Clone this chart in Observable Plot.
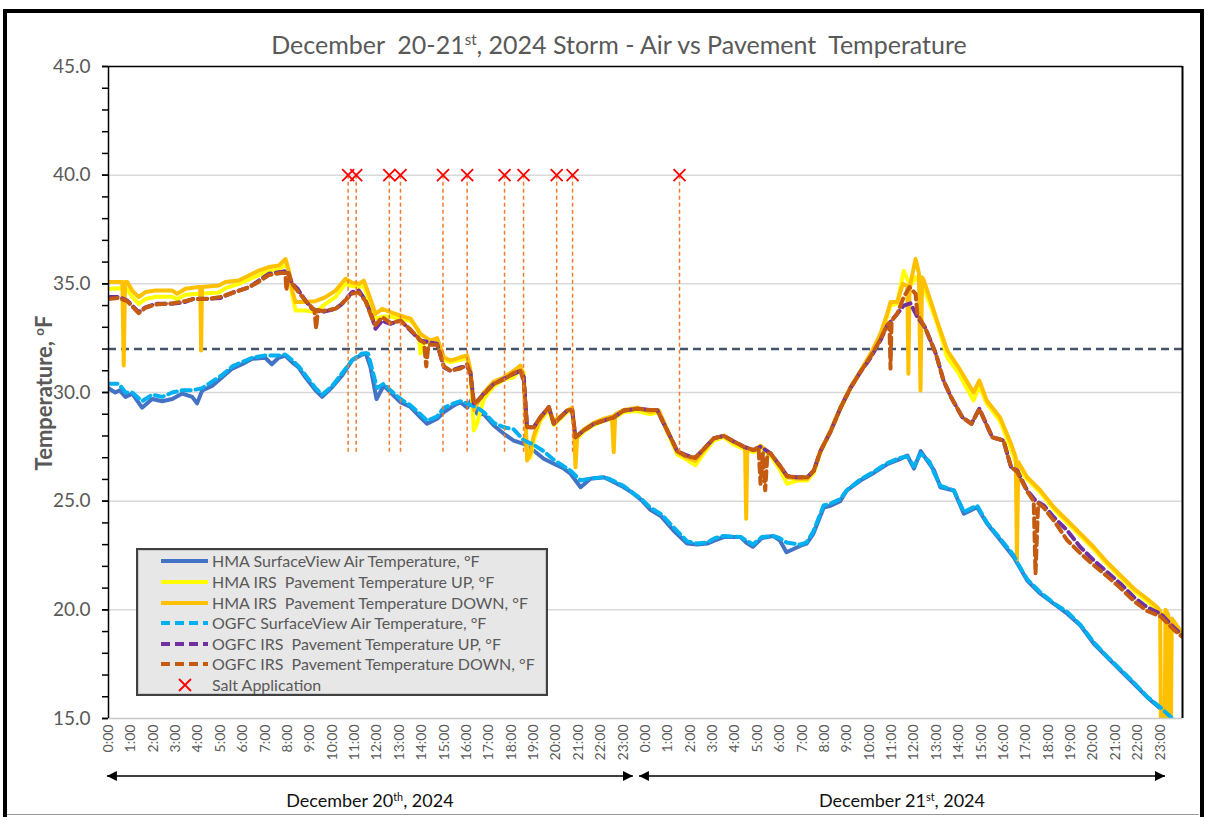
<!DOCTYPE html>
<html><head><meta charset="utf-8">
<script src="https://cdn.jsdelivr.net/npm/d3@7"></script>
<script src="https://cdn.jsdelivr.net/npm/@observablehq/plot@0.6"></script>
<style>
body{margin:0;background:#fff;font-family:Lato,"Open Sans",sans-serif;}
#wrap{position:relative;width:1209px;height:817px;overflow:hidden;background:#fff;}
#wrap svg.plot{position:absolute;left:0;top:0;}
.abs{position:absolute;white-space:pre;}
#title{left:619px;top:29px;transform:translateX(-50%);font-size:25px;color:#595959;}
#title sup,.day sup{font-size:0.6em;vertical-align:0.6em;line-height:0;}
#ylab{left:43px;top:393px;transform:translate(-50%,-50%) rotate(-90deg);font-size:22px;font-weight:bold;color:#595959;}
#ylab sup{font-size:0.6em;vertical-align:0.6em;line-height:0;}
.day{font-size:18px;color:#111;transform:translate(-50%,-50%);}
#legend{left:136px;top:548px;width:412px;height:148px;box-sizing:border-box;background:#e7e7e7;border:2px solid #404040;box-shadow:inset 0 0 0 1px #c8c8c8;}
.lrow{position:absolute;left:0;height:20px;display:flex;align-items:center;}
.lrow svg{position:absolute;left:22px;top:0;}
.lrow span{position:absolute;left:74px;top:50%;transform:translateY(-52%);font-size:16px;color:#595959;white-space:pre;}
#frame{left:3px;top:9px;width:1201px;height:840px;box-sizing:border-box;border:4px solid #000;}
#bottomline{left:7px;top:814px;width:1192px;height:1px;background:#9a9a9a;}
</style></head><body><div id="wrap"></div>
<script>
// ---------------- DATA (hours since Dec 20 0:00, temperature °F) ----------------
const hmaAir = [[0,30.2],[0.3,30.0],[0.5,30.1],[0.76,29.8],[1.06,29.95],[1.5,29.3],[1.95,29.7],[2.4,29.6],[2.85,29.7],[3.3,29.95],[3.74,29.8],[3.96,29.5],[4.19,30.1],[4.63,30.3],[5.08,30.7],[5.53,31.1],[5.97,31.3],[6.42,31.55],[7.0,31.6],[7.3,31.3],[7.6,31.6],[7.9,31.7],[8.2,31.4],[8.5,31.15],[8.8,30.7],[9.25,30.1],[9.55,29.8],[10.0,30.25],[10.45,30.8],[10.9,31.5],[11.34,31.75],[11.5,31.8],[11.71,31.16],[11.98,29.7],[12.3,30.32],[12.6,30.01],[13.05,29.55],[13.5,29.33],[13.94,28.86],[14.24,28.56],[14.69,28.79],[14.99,29.1],[15.43,29.4],[15.73,29.55],[16.03,29.3],[16.18,29.6],[16.48,29.02],[16.77,29.0],[17.22,28.48],[17.67,28.1],[18.11,27.79],[18.56,27.64],[19.0,27.33],[19.45,26.95],[19.9,26.72],[20.35,26.5],[20.65,26.26],[21.1,25.64],[21.54,26.03],[22.14,26.1],[22.44,25.95],[23.03,25.64],[23.4,25.4],[23.82,25.05],[24.22,24.6],[24.7,24.3],[25.25,23.65],[25.86,23.05],[26.3,23.0],[26.76,23.05],[27.1,23.2],[27.5,23.35],[28.25,23.35],[28.5,23.1],[28.8,22.9],[29.2,23.3],[29.7,23.4],[30.0,23.2],[30.3,22.65],[30.93,22.95],[31.2,23.05],[31.5,23.5],[31.96,24.7],[32.3,24.8],[32.7,25.0],[33.0,25.5],[33.6,25.95],[34.2,26.3],[34.8,26.7],[35.4,26.95],[35.7,27.1],[36.0,26.5],[36.3,27.3],[36.7,26.7],[36.9,26.41],[37.18,25.64],[37.78,25.49],[38.23,24.42],[38.82,24.72],[39.27,23.96],[39.87,23.19],[40.46,22.42],[41.06,21.35],[41.65,20.74],[42.25,20.28],[42.85,19.82],[43.44,19.28],[44.04,18.44],[44.63,17.82],[45.23,17.21],[45.83,16.6],[46.42,15.98],[47.02,15.45],[47.6,14.9],[48.0,14.6]];

const hmaUp = [[0,34.77],[0.5,34.8],[0.84,34.75],[1.06,34.4],[1.35,34.08],[1.65,34.3],[2.1,34.4],[2.85,34.4],[3.07,34.3],[3.44,34.5],[4.04,34.54],[4.93,34.6],[5.23,34.8],[5.82,35.0],[6.27,35.2],[6.72,35.4],[7.16,35.6],[7.61,35.65],[7.91,35.9],[8.06,35.6],[8.21,34.5],[8.36,33.77],[8.8,33.77],[9.25,33.7],[9.7,34.08],[10.15,34.4],[10.59,35.0],[10.89,34.9],[11.19,34.85],[11.41,34.9],[11.63,34.3],[11.93,33.4],[12.3,33.5],[12.6,33.5],[13.05,33.4],[13.5,33.3],[13.85,32.9],[13.94,31.8],[14.1,32.3],[14.39,32.3],[14.69,32.3],[14.99,31.5],[15.28,31.4],[15.73,31.5],[16.03,31.6],[16.18,30.9],[16.33,28.25],[16.48,28.6],[16.77,29.7],[17.22,30.3],[17.67,30.6],[18.11,30.7],[18.41,31.1],[18.56,30.9],[18.71,27.0],[18.86,27.0],[19.0,27.79],[19.3,28.7],[19.68,29.2],[19.9,28.5],[20.2,28.8],[20.5,29.1],[20.72,29.2],[20.87,27.8],[21.24,28.2],[21.69,28.5],[22.14,28.7],[22.58,28.8],[23.03,29.1],[23.63,29.15],[24.22,29.0],[24.6,29.1],[24.97,28.2],[25.42,27.15],[25.86,26.9],[26.23,26.65],[26.6,27.2],[27.06,27.8],[27.5,27.95],[27.95,27.6],[28.4,27.4],[28.84,27.25],[29.14,27.45],[29.59,27.1],[30.03,26.4],[30.33,25.8],[30.78,25.95],[31.23,25.95],[31.52,26.3],[31.82,27.25],[32.27,28.2],[32.72,29.25],[33.16,30.2],[33.61,30.95],[34.06,31.7],[34.5,32.6],[34.8,33.5],[34.95,34.0],[35.25,34.1],[35.54,35.6],[35.84,34.9],[36.07,35.3],[36.29,35.0],[36.44,34.8],[36.74,34.0],[37.03,33.2],[37.49,31.6],[37.99,30.9],[38.66,29.63],[38.92,30.3],[39.25,29.5],[39.84,28.7],[40.34,27.4],[40.61,26.6],[41.06,26.0],[41.65,25.4],[42.25,24.62],[42.85,24.0],[43.44,23.4],[44.04,22.78],[44.63,22.1],[45.23,21.48],[45.83,20.87],[46.42,20.4],[46.87,20.0],[47.02,19.9],[47.6,19.4],[48.0,18.85]];

const hmaDown = [[0,35.08],[0.46,35.08],[0.62,35.08],[0.68,31.24],[0.74,35.08],[0.84,35.08],[1.06,34.69],[1.35,34.39],[1.65,34.62],[2.1,34.69],[2.85,34.69],[3.07,34.54],[3.44,34.77],[4.04,34.85],[4.1,34.85],[4.14,31.93],[4.18,34.85],[4.93,34.92],[5.23,35.08],[5.82,35.15],[6.27,35.38],[6.72,35.61],[7.16,35.77],[7.61,35.84],[7.91,36.15],[8.06,35.6],[8.21,34.69],[8.36,34.16],[8.8,34.16],[9.25,34.2],[9.7,34.39],[10.15,34.69],[10.59,35.23],[10.89,35.05],[11.19,35.0],[11.41,35.15],[11.63,34.54],[11.93,33.62],[12.23,33.85],[12.6,33.7],[13.05,33.54],[13.5,33.4],[13.94,32.7],[14.39,32.39],[14.69,32.5],[14.99,31.62],[15.28,31.47],[15.73,31.62],[16.03,31.7],[16.18,31.0],[16.33,29.2],[16.48,29.48],[16.77,30.0],[17.22,30.5],[17.67,30.7],[18.11,31.0],[18.41,31.24],[18.56,30.7],[18.71,26.87],[18.86,27.2],[19.0,28.0],[19.3,28.8],[19.68,29.25],[19.9,28.7],[20.2,28.9],[20.5,29.17],[20.72,29.3],[20.8,28.6],[20.87,26.56],[20.95,28.0],[21.24,28.3],[21.69,28.6],[22.14,28.8],[22.5,28.9],[22.58,27.25],[22.65,29.0],[23.03,29.2],[23.63,29.3],[24.22,29.1],[24.6,29.17],[24.97,28.3],[25.42,27.25],[25.86,27.0],[26.23,26.85],[26.6,27.33],[27.06,27.87],[27.5,28.02],[27.95,27.71],[28.45,27.48],[28.5,24.19],[28.55,27.4],[28.84,27.33],[29.14,27.56],[29.59,27.18],[30.03,26.56],[30.33,26.1],[30.78,26.03],[31.23,26.03],[31.52,26.41],[31.82,27.33],[32.27,28.25],[32.72,29.33],[33.16,30.25],[33.61,31.0],[34.06,31.78],[34.5,32.7],[34.8,33.62],[34.95,34.16],[35.25,34.16],[35.5,35.0],[35.7,34.9],[35.75,30.86],[35.8,34.8],[36.07,36.15],[36.22,35.5],[36.29,30.09],[36.36,35.3],[36.44,35.15],[36.74,34.23],[37.03,33.3],[37.49,31.93],[37.99,31.16],[38.66,30.0],[38.92,30.55],[39.25,29.63],[39.84,28.86],[40.34,27.64],[40.55,27.0],[40.6,22.3],[40.66,26.8],[41.06,26.1],[41.65,25.49],[42.25,24.72],[42.85,24.11],[43.44,23.5],[44.04,22.88],[44.63,22.19],[45.23,21.58],[45.83,20.97],[46.42,20.51],[46.87,20.12],[47.0,19.95],[47.04,14.0],[47.2,14.0],[47.24,20.0],[47.36,19.8],[47.4,14.0],[47.48,14.0],[47.52,19.6],[48.0,18.9]];

const ogfcAir = [[0,30.4],[0.46,30.4],[0.76,30.0],[1.06,30.0],[1.5,29.6],[1.95,29.9],[2.4,29.8],[2.85,30.0],[3.3,30.1],[3.74,30.1],[4.19,30.2],[4.63,30.5],[5.08,30.8],[5.53,31.2],[5.97,31.4],[6.42,31.6],[7.0,31.7],[7.6,31.7],[7.9,31.75],[8.2,31.5],[8.5,31.2],[8.8,30.8],[9.25,30.2],[9.55,29.9],[10.0,30.3],[10.45,30.9],[10.9,31.5],[11.34,31.8],[11.6,31.8],[11.8,31.0],[12.0,30.2],[12.3,30.4],[12.6,30.1],[13.05,29.7],[13.5,29.4],[13.94,29.0],[14.24,28.7],[14.69,28.9],[14.99,29.3],[15.43,29.5],[15.73,29.6],[16.03,29.5],[16.48,29.3],[16.77,29.1],[17.22,28.6],[17.67,28.4],[18.11,28.3],[18.56,27.8],[19.0,27.6],[19.45,27.3],[19.9,26.9],[20.35,26.6],[20.65,26.4],[21.1,25.95],[21.54,26.05],[22.14,26.1],[22.44,26.0],[23.03,25.7],[23.4,25.4],[23.82,25.1],[24.22,24.7],[24.7,24.4],[25.25,23.8],[25.86,23.15],[26.3,23.05],[26.76,23.1],[27.1,23.3],[27.5,23.4],[28.25,23.35],[28.5,23.2],[28.8,23.0],[29.2,23.35],[29.7,23.4],[30.0,23.3],[30.3,23.1],[30.93,23.0],[31.2,23.1],[31.5,23.6],[31.96,24.8],[32.3,24.9],[32.7,25.1],[33.0,25.5],[33.6,26.0],[34.2,26.35],[34.8,26.75],[35.4,27.0],[35.7,27.05],[36.0,26.6],[36.3,27.2],[36.7,26.8],[36.9,26.3],[37.18,25.7],[37.78,25.5],[38.23,24.5],[38.82,24.8],[39.27,24.0],[39.87,23.25],[40.46,22.5],[40.6,22.2],[41.06,21.4],[41.65,20.8],[42.25,20.3],[42.85,19.9],[43.44,19.3],[44.04,18.5],[44.63,17.85],[45.23,17.25],[45.83,16.65],[46.42,16.0],[47.02,15.5],[47.6,14.95],[48.0,14.6]];

const ogfcUp = [[0,34.39],[0.46,34.4],[0.84,34.23],[1.35,33.7],[1.65,33.92],[2.1,34.08],[2.85,34.08],[3.4,34.16],[3.8,34.31],[4.5,34.31],[5.0,34.35],[5.6,34.62],[6.3,34.85],[6.72,35.15],[7.16,35.46],[7.7,35.54],[7.99,35.6],[8.21,35.0],[8.43,34.8],[8.8,34.23],[9.1,33.85],[9.55,33.7],[10.15,33.85],[10.44,34.08],[10.89,34.62],[11.19,34.69],[11.49,34.23],[11.78,33.47],[11.93,32.93],[12.23,33.3],[12.6,33.16],[13.05,33.31],[13.5,32.85],[13.94,32.39],[14.39,32.3],[14.69,32.24],[14.99,31.16],[15.28,31.0],[15.73,31.16],[16.03,31.2],[16.18,30.9],[16.33,29.5],[16.48,29.6],[16.77,29.94],[17.22,30.4],[17.67,30.63],[18.11,30.86],[18.41,31.0],[18.56,30.7],[18.71,28.4],[19.0,28.4],[19.3,28.86],[19.68,29.33],[19.9,28.56],[20.2,28.86],[20.5,29.17],[20.72,29.2],[20.87,27.94],[21.24,28.25],[21.69,28.56],[22.14,28.71],[22.58,28.86],[23.03,29.17],[23.63,29.25],[24.22,29.2],[24.52,29.2],[24.82,28.56],[25.12,27.94],[25.42,27.3],[25.86,27.1],[26.23,27.0],[26.6,27.4],[27.06,27.9],[27.5,28.0],[27.95,27.75],[28.4,27.5],[28.84,27.35],[29.14,27.5],[29.59,27.2],[30.03,26.6],[30.33,26.15],[30.78,26.1],[31.23,26.1],[31.52,26.4],[31.82,27.3],[32.27,28.2],[32.72,29.3],[33.16,30.2],[33.61,30.95],[34.06,31.6],[34.5,32.4],[34.8,33.08],[35.25,33.62],[35.54,34.0],[35.84,34.1],[36.15,33.47],[36.49,33.0],[36.98,31.78],[37.32,30.55],[37.66,29.78],[38.16,28.86],[38.57,28.56],[38.92,29.25],[39.5,27.94],[40.0,27.79],[40.34,26.56],[40.61,26.41],[41.06,25.49],[41.43,25.03],[41.8,24.8],[42.25,24.26],[42.85,23.65],[43.44,22.88],[44.04,22.27],[44.63,21.74],[45.23,21.2],[45.83,20.58],[46.42,20.12],[47.02,19.82],[47.6,19.2],[48.0,18.82]];

const ogfcDown = [[0,34.3],[0.46,34.35],[0.84,34.2],[1.35,33.65],[1.65,33.9],[2.1,34.05],[2.85,34.1],[3.4,34.2],[3.8,34.3],[4.5,34.3],[5.0,34.4],[5.6,34.6],[6.3,34.85],[6.72,35.1],[7.16,35.4],[7.7,35.5],[7.9,35.5],[7.95,34.7],[8.05,35.5],[8.21,35.0],[8.43,34.7],[8.8,34.23],[9.1,33.9],[9.2,33.8],[9.28,32.93],[9.36,33.8],[9.55,33.75],[10.15,33.85],[10.44,34.1],[10.89,34.55],[11.19,34.6],[11.49,34.2],[11.78,33.4],[11.93,33.1],[12.23,33.47],[12.6,33.2],[13.05,33.3],[13.5,32.9],[13.94,32.4],[14.1,32.3],[14.2,31.2],[14.3,32.2],[14.69,32.2],[14.99,31.2],[15.28,31.0],[15.73,31.1],[16.03,31.3],[16.18,30.8],[16.33,29.48],[16.48,29.6],[16.77,29.9],[17.22,30.4],[17.67,30.6],[18.11,30.9],[18.41,31.0],[18.56,30.5],[18.71,28.4],[19.0,28.4],[19.3,28.86],[19.68,29.33],[19.9,28.56],[20.2,28.86],[20.5,29.17],[20.72,29.2],[20.87,27.94],[21.24,28.25],[21.69,28.56],[22.14,28.71],[22.58,28.86],[23.03,29.17],[23.63,29.25],[24.22,29.2],[24.52,29.2],[24.82,28.56],[25.12,27.94],[25.42,27.3],[25.86,27.05],[26.23,27.0],[26.6,27.4],[27.06,27.9],[27.5,28.0],[27.95,27.75],[28.4,27.5],[28.84,27.35],[29.05,27.5],[29.14,25.8],[29.25,27.2],[29.35,25.5],[29.45,27.2],[29.59,27.2],[30.03,26.6],[30.33,26.15],[30.78,26.1],[31.23,26.1],[31.52,26.4],[31.82,27.3],[32.27,28.2],[32.72,29.3],[33.16,30.2],[33.61,30.95],[34.06,31.65],[34.5,32.45],[34.8,33.1],[34.9,33.2],[34.95,31.1],[35.0,33.3],[35.25,33.62],[35.54,34.39],[35.8,34.85],[36.07,34.54],[36.15,33.6],[36.49,33.0],[36.98,31.78],[37.32,30.55],[37.66,29.78],[38.16,28.86],[38.57,28.56],[38.92,29.25],[39.5,27.94],[40.0,27.79],[40.34,26.56],[40.61,26.35],[41.06,25.45],[41.35,25.0],[41.43,21.66],[41.55,24.9],[41.8,24.7],[42.25,24.1],[42.85,23.2],[43.44,22.6],[44.04,22.05],[44.63,21.55],[45.23,21.0],[45.83,20.4],[46.42,19.95],[47.02,19.7],[47.6,19.1],[48.0,18.75]];

const saltTimes = [10.71, 11.07, 12.55, 13.05, 14.95, 16.03, 17.7, 18.55, 20.03, 20.74, 25.52];
const saltLevel = 40;
const saltLineBottom = 27.25;
const freezingPoint = 32;

const seriesNames = ["HMA SurfaceView Air Temperature, °F","HMA IRS  Pavement Temperature UP, °F","HMA IRS  Pavement Temperature DOWN, °F","OGFC SurfaceView Air Temperature, °F","OGFC IRS  Pavement Temperature UP, °F","OGFC IRS  Pavement Temperature DOWN, °F"];
const seriesColors = ["#4472C4","#FFFF00","#FFC000","#00B0F0","#7030A0","#C55A11"];
const seriesDashed = [false,false,false,true,true,true];
const seriesData = [hmaAir, hmaUp, hmaDown, ogfcAir, ogfcUp, ogfcDown];
const saltLabel = "Salt Application";

const yDomain = [15, 45];
const yMajorTicks = [15, 20, 25, 30, 35, 40, 45];
const yMinorTicks = [15,16,17,18,19,20,21,22,23,24,25,26,27,28,29,30,31,32,33,34,35,36,37,38,39,40,41,42,43,44,45];
const yGrid = [20, 25, 30, 35, 40];
const xDomain = [0, 48];
const hourLabels = ["0:00","1:00","2:00","3:00","4:00","5:00","6:00","7:00","8:00","9:00","10:00","11:00","12:00","13:00","14:00","15:00","16:00","17:00","18:00","19:00","20:00","21:00","22:00","23:00"];
const xTicks = d3.range(0, 48);
const dayLabels = ["December 20<sup>th</sup>, 2024", "December 21<sup>st</sup>, 2024"];
const daySpans = [[-0.05, 23.46], [23.73, 47.24]];

// ---------------- CHART ----------------
const W = 1209, H = 817;
const dash = "9,5";
const lineMarks = seriesData.map((data, i) => Plot.line(data, {
  x: d => d[0], y: d => d[1], stroke: seriesColors[i], strokeWidth: 4,
  strokeDasharray: seriesDashed[i] ? dash : null, strokeLinejoin: "round", clip: true
}));

const plot = Plot.plot({
  width: W, height: H,
  marginLeft: 108, marginRight: 27, marginTop: 66, marginBottom: 99,
  x: {domain: xDomain, axis: null},
  y: {domain: yDomain, axis: null},
  style: {fontFamily: "Lato, 'Open Sans', sans-serif", background: "transparent", overflow: "visible"},
  marks: [
    Plot.gridY(yGrid, {stroke: "#d9d9d9", strokeOpacity: 1, strokeWidth: 1.5}),
    Plot.ruleY([freezingPoint], {stroke: "#44546A", strokeWidth: 2.5, strokeDasharray: "8,5"}),
    ...lineMarks,
    Plot.ruleX(saltTimes, {x: d => d, y1: saltLevel, y2: saltLineBottom, stroke: "#ED7D31", strokeWidth: 1.5, strokeDasharray: "4,3"}),
    Plot.dot(saltTimes, {x: d => d, y: saltLevel, symbol: "times", r: 5.5, stroke: "#FF0000", strokeWidth: 1.8}),
    Plot.ruleY([yDomain[0]], {stroke: "#c8c8c8", strokeWidth: 1.5}),
    Plot.ruleY([yDomain[1]], {stroke: "#000", strokeWidth: 1.5}),
    Plot.ruleX([xDomain[1]], {stroke: "#000", strokeWidth: 2}),
    Plot.ruleX([xDomain[0]], {stroke: "#000", strokeWidth: 1.5}),
    Plot.axisY({ticks: yMinorTicks, tickFormat: () => "", tickSize: 6, stroke: "#000", strokeWidth: 1.5}),
    Plot.axisY({ticks: yMajorTicks, tickFormat: d3.format(".1f"), tickSize: 6, tickPadding: 12, stroke: "#000", strokeWidth: 1.5, fill: "#595959", fontSize: 19}),
    Plot.axisX({ticks: xTicks, tickFormat: h => hourLabels[h % 24], tickSize: 0, tickPadding: 6, tickRotate: -90, fill: "#595959", fontSize: 14})
  ]
});
plot.classList.add("plot");

const wrap = document.getElementById("wrap");
wrap.appendChild(plot);
const xs = plot.scale("x");

function addDiv(id, cls, html, style) {
  const d = document.createElement("div");
  if (id) d.id = id;
  d.className = "abs " + (cls || "");
  d.innerHTML = html;
  if (style) Object.assign(d.style, style);
  wrap.appendChild(d);
  return d;
}

addDiv("frame", "", "");
addDiv("bottomline", "", "");
addDiv("title", "", "December&nbsp; 20-21<sup>st</sup>, 2024 Storm - Air vs Pavement&nbsp; Temperature");
addDiv("ylab", "", "Temperature, <sup>o</sup>F");

// day arrows
const NS = "http://www.w3.org/2000/svg";
const ov = document.createElementNS(NS, "svg");
ov.setAttribute("width", W); ov.setAttribute("height", H);
ov.style.position = "absolute"; ov.style.left = "0"; ov.style.top = "0";
ov.innerHTML = `<defs><marker id="ah" viewBox="0 0 10 10" refX="10" refY="5" markerWidth="10" markerHeight="10" markerUnits="userSpaceOnUse" orient="auto-start-reverse"><path d="M0,0 L10,5 L0,10 z" fill="#000"/></marker></defs>`;
const arrowY = 776;
daySpans.forEach(([a, b], i) => {
  const l = document.createElementNS(NS, "line");
  l.setAttribute("x1", xs.apply(a)); l.setAttribute("x2", xs.apply(b));
  l.setAttribute("y1", arrowY); l.setAttribute("y2", arrowY);
  l.setAttribute("stroke", "#000"); l.setAttribute("stroke-width", "1.3");
  l.setAttribute("marker-start", "url(#ah)"); l.setAttribute("marker-end", "url(#ah)");
  ov.appendChild(l);
  addDiv(null, "day", dayLabels[i], {left: xs.apply((a + b) / 2) + "px", top: "800px"});
});
wrap.appendChild(ov);

// legend
const lg = addDiv("legend", "", "");
const rowTop = [1, 21.5, 42.5, 63, 83.5, 104, 124.5];
seriesNames.forEach((name, i) => {
  const r = document.createElement("div");
  r.className = "lrow"; r.style.top = rowTop[i] + "px"; r.style.width = "100%";
  r.innerHTML = `<svg width="50" height="20"><line x1="1" x2="48" y1="10" y2="10" stroke="${seriesColors[i]}" stroke-width="4" ${seriesDashed[i] ? 'stroke-dasharray="9,5"' : ''}/></svg><span>${name}</span>`;
  lg.appendChild(r);
});
const sr = document.createElement("div");
sr.className = "lrow"; sr.style.top = rowTop[6] + "px"; sr.style.width = "100%";
sr.innerHTML = `<svg width="50" height="20"><path d="M19,4 L31,16 M31,4 L19,16" stroke="#FF0000" stroke-width="1.8"/></svg><span>${saltLabel}</span>`;
lg.appendChild(sr);
</script></body></html>
